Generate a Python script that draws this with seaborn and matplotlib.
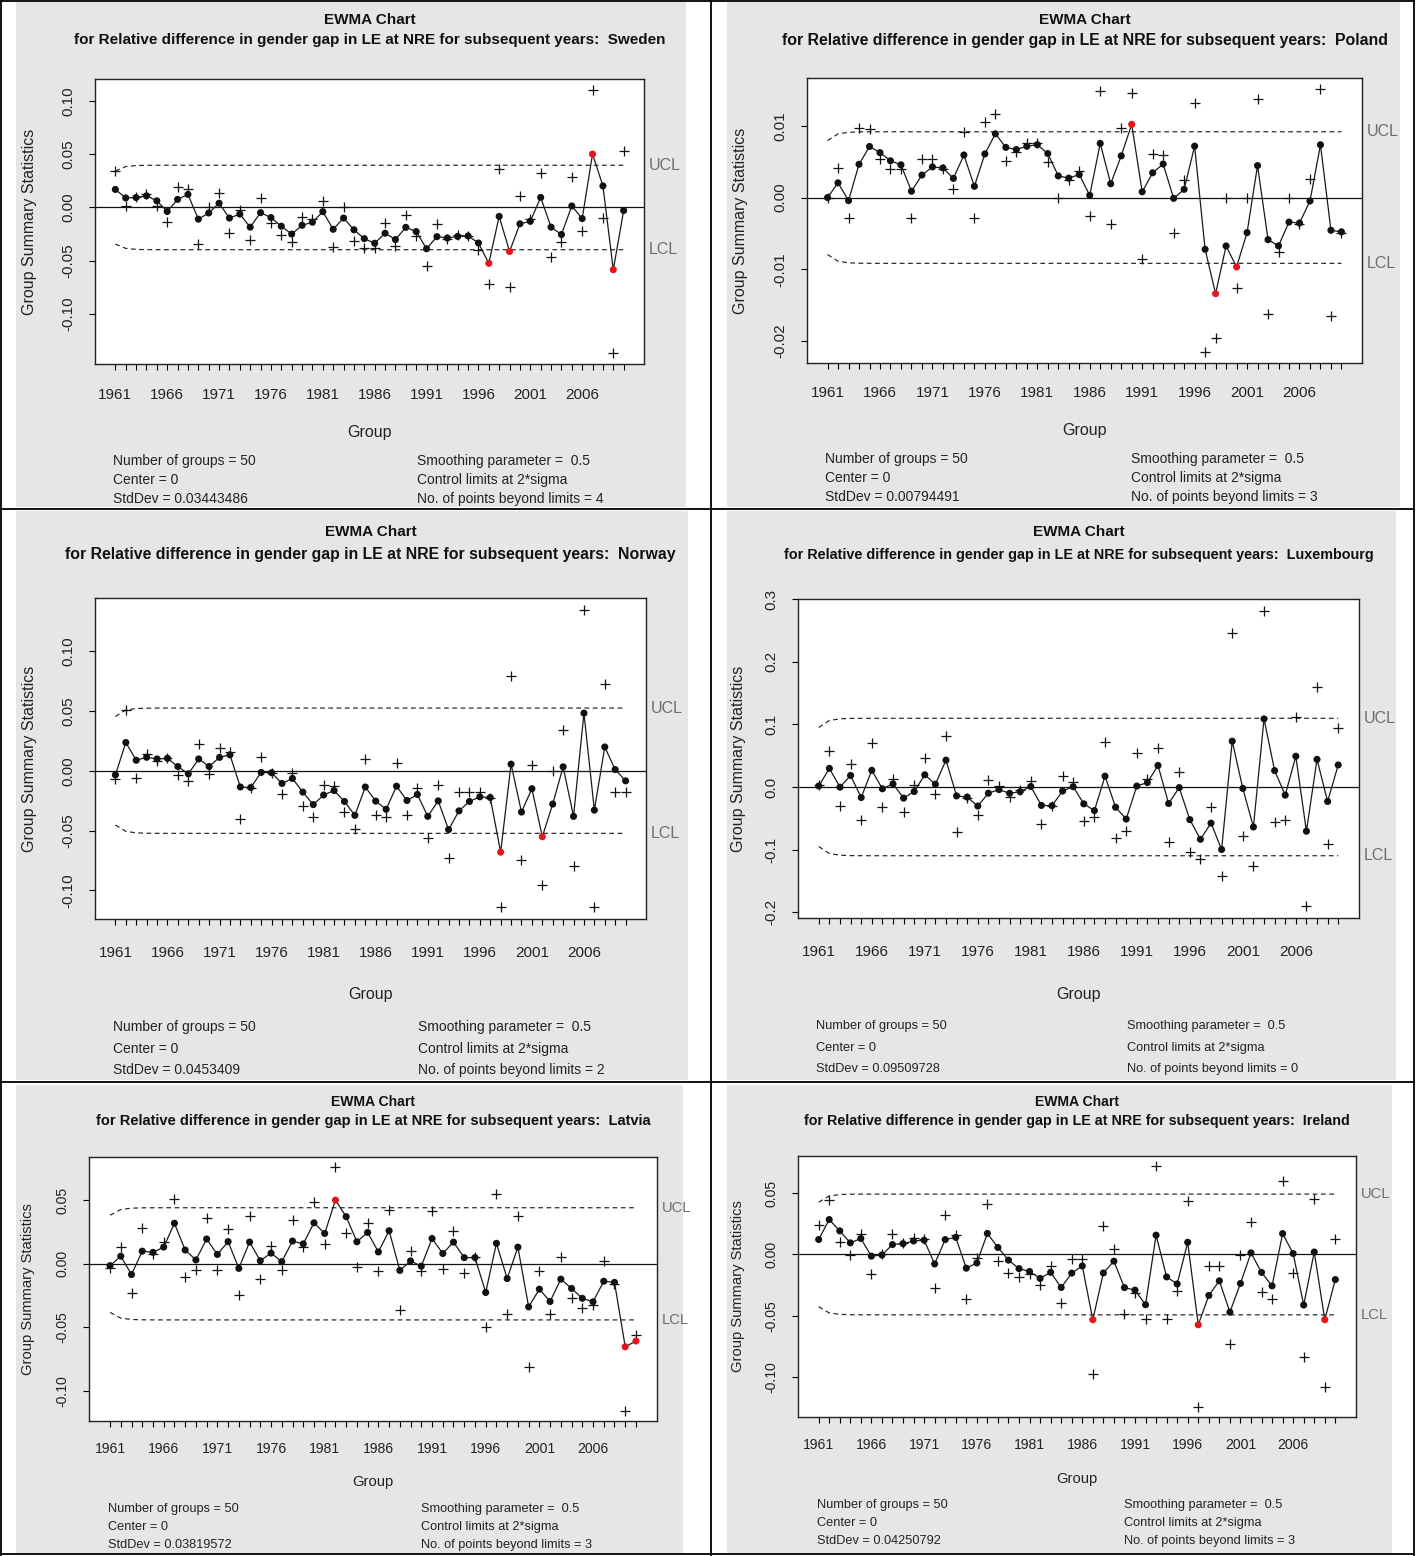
import matplotlib
matplotlib.use('Agg')
import matplotlib.pyplot as plt
from matplotlib.lines import Line2D
from matplotlib.patches import Rectangle
from matplotlib.transforms import blended_transform_factory
import seaborn as sns
import numpy as np
import pandas as pd

# groups (years) and tick labels
years = list(range(1961, 2011))
year_labels = [str(y) if (y - 1961) % 5 == 0 and y <= 2006 else '' for y in years]

countries = ['Sweden', 'Poland', 'Norway', 'Luxembourg', 'Latvia', 'Ireland']
stddevs = [0.03443486, 0.00794491, 0.0453409, 0.09509728, 0.03819572, 0.04250792]
stddev_txt = ['0.03443486', '0.00794491', '0.0453409', '0.09509728', '0.03819572', '0.04250792']

# relative difference statistics per group
sweden = [0.034, 0.001, 0.0097, 0.0126, 0.0016, -0.0138, 0.019, 0.017, -0.0343, 0.0006,
          0.0132, -0.0239, -0.0025, -0.0308, 0.0088, -0.0142, -0.0258, -0.0324, -0.0085, -0.011,
          0.006, -0.0371, 0.0006, -0.032, -0.0377, -0.038, -0.0148, -0.0362, -0.0072, -0.0267,
          -0.055, -0.016, -0.030, -0.0258, -0.0264, -0.040, -0.0717, 0.0358, -0.0745, 0.0107,
          -0.0107, 0.032, -0.0465, -0.0324, 0.0283, -0.0223, 0.111, -0.0097, -0.1374, 0.0528]
poland = [0.0, 0.0041, -0.0029, 0.0097, 0.0096, 0.0054, 0.004, 0.004, -0.0028, 0.0054,
          0.0054, 0.004, 0.0012, 0.0092, -0.0028, 0.0106, 0.0117, 0.0051, 0.0064, 0.0076,
          0.0076, 0.0049, -0.0001, 0.0024, 0.0037, -0.0026, 0.0148, -0.0037, 0.0097, 0.0146,
          -0.0086, 0.0061, 0.0059, -0.0049, 0.0024, 0.0132, -0.0216, -0.0196, -0.0001, -0.0126,
          -0.0001, 0.0138, -0.0162, -0.0076, -0.0001, -0.0037, 0.0026, 0.0152, -0.0165, -0.005]
norway = [-0.007, 0.0506, -0.0061, 0.0137, 0.0084, 0.0109, -0.0034, -0.0087, 0.0223, -0.0028,
          0.0187, 0.0154, -0.0405, -0.0145, 0.0112, -0.002, -0.0196, -0.0022, -0.0293, -0.0388,
          -0.0123, -0.0128, -0.0349, -0.0489, 0.0101, -0.0372, -0.0391, 0.0064, -0.0369, -0.0148,
          -0.0564, -0.0123, -0.0732, -0.0179, -0.0179, -0.0179, -0.023, -0.1137, 0.079, -0.0746,
          0.0045, -0.0953, -0.0006, 0.0344, -0.0796, 0.1344, -0.114, 0.0726, -0.0179, -0.0179]
luxembourg = [0.0032, 0.058, -0.0303, 0.0372, -0.0521, 0.0702, -0.0324, 0.0128, -0.0404, 0.0032,
              0.0463, -0.0106, 0.0814, -0.0713, -0.0181, -0.0447, 0.0106, 0.0016, -0.016, -0.0048,
              0.009, -0.0596, -0.0303, 0.017, 0.0074, -0.0543, -0.0484, 0.0723, -0.0819, -0.0702,
              0.0543, 0.0128, 0.0617, -0.0872, 0.0245, -0.1032, -0.1149, -0.0319, -0.142, 0.2463,
              -0.0777, -0.1255, 0.2815, -0.0564, -0.0521, 0.1112, -0.1904, 0.159, -0.0904, 0.0936]
latvia = [-0.0029, 0.0134, -0.0228, 0.0283, 0.0081, 0.0173, 0.0506, -0.0102, -0.0047, 0.0359,
          -0.0047, 0.0275, -0.0246, 0.0378, -0.0123, 0.0144, -0.005, 0.0341, 0.0134, 0.0488,
          0.0155, 0.0763, 0.0241, -0.0024, 0.032, -0.006, 0.0427, -0.0364, 0.0097, -0.006,
          0.0417, -0.0037, 0.026, -0.0073, 0.005, -0.05, 0.0548, -0.0393, 0.0378, -0.0808,
          -0.006, -0.0393, 0.0055, -0.0267, -0.0349, -0.0325, 0.0024, -0.0155, -0.1159, -0.0561]
ireland = [0.0243, 0.0446, 0.01, -0.0003, 0.0165, -0.0157, 0.0005, 0.0165, 0.0095, 0.0132,
           0.0122, -0.027, 0.0319, 0.0157, -0.0362, -0.0027, 0.0411, -0.0057, -0.0149, -0.0184,
           -0.0162, -0.0251, -0.0095, -0.0392, -0.0035, -0.0035, -0.0968, 0.023, 0.0041, -0.0484,
           -0.0311, -0.0527, 0.0722, -0.0522, -0.0297, 0.0438, -0.1243, -0.0095, -0.0095, -0.0724,
           -0.0003, 0.0262, -0.0305, -0.0365, 0.0595, -0.0154, -0.083, 0.0451, -0.1081, 0.0122]
series = [sweden, poland, norway, luxembourg, latvia, ireland]

yticks = [[-0.10, -0.05, 0.0, 0.05, 0.10],
          [-0.02, -0.01, 0.0, 0.01],
          [-0.10, -0.05, 0.0, 0.05, 0.10],
          [-0.2, -0.1, 0.0, 0.1, 0.2, 0.3],
          [-0.10, -0.05, 0.0, 0.05],
          [-0.10, -0.05, 0.0, 0.05]]
ytick_fmt = ['%.2f', '%.2f', '%.2f', '%.1f', '%.2f', '%.2f']

lam = 0.5
nsig = 2

# pixel layout of the six pasted R plots
W, H = 1416, 1556
layout = [
    dict(box=(95, 79, 644, 364), bg=(16, 2, 686, 507), title=(20, 40), xlab=432,
         info=(461, 480, 499), info_x=(113, 417), xt=29, ylab_x=30, fs=1.0,
         tfs=11.0, ifs=10.0),
    dict(box=(807, 78, 1362, 363), bg=(727, 2, 1400, 507), title=(20, 40), xlab=430,
         info=(459, 478, 497), info_x=(825, 1131), xt=28, ylab_x=740, fs=1.0,
         tfs=11.45, ifs=10.0),
    dict(box=(95, 598, 646, 919), bg=(16, 511, 688, 1080), title=(532, 555), xlab=995,
         info=(1027, 1049, 1070), info_x=(113, 418), xt=32, ylab_x=30, fs=1.0,
         tfs=11.4, ifs=10.0),
    dict(box=(798, 599, 1359, 918), bg=(727, 511, 1396, 1080), title=(532, 555), xlab=994,
         info=(1026, 1048, 1069), info_x=(816, 1127), xt=32, ylab_x=738, fs=1.0,
         tfs=10.4, ifs=9.2),
    dict(box=(89, 1157, 657, 1421), bg=(16, 1085, 683, 1553), title=(1102, 1121), xlab=1482,
         info=(1509, 1527, 1545), info_x=(108, 421), xt=26, ylab_x=28, fs=0.92,
         tfs=10.5, ifs=9.2),
    dict(box=(798, 1156, 1356, 1417), bg=(727, 1085, 1392, 1553), title=(1102, 1121), xlab=1479,
         info=(1505, 1523, 1541), info_x=(817, 1124), xt=26, ylab_x=738, fs=0.92,
         tfs=10.3, ifs=9.2),
]

plt.rcParams['font.family'] = ['Liberation Sans', 'DejaVu Sans']

fig = plt.figure(figsize=(W / 100, H / 100), dpi=100)
fig.patch.set_facecolor('white')


def fx(x):
    return x / W


def fy(y):
    return 1 - y / H


for name, raw, sd, sdt, yt, yf, lay in zip(countries, series, stddevs, stddev_txt,
                                           yticks, ytick_fmt, layout):
    raw = np.array(raw)
    n = len(raw)
    # EWMA statistic and its control limits
    z = np.zeros(n)
    prev = 0.0
    for i, v in enumerate(raw):
        prev = lam * v + (1 - lam) * prev
        z[i] = prev
    t = np.arange(1, n + 1)
    sz = sd * np.sqrt(lam / (2 - lam) * (1 - (1 - lam) ** (2 * t)))
    ucl = nsig * sz
    lcl = -nsig * sz
    out = (z > ucl) | (z < lcl)
    df = pd.DataFrame({'year': years, 'value': raw, 'ewma': z, 'ucl': ucl, 'lcl': lcl,
                       'out': out})

    s = lay['fs']
    x0, y0, x1, y1 = lay['bg']
    fig.add_artist(Rectangle((fx(x0), fy(y1)), (x1 - x0) / W, (y1 - y0) / H,
                             transform=fig.transFigure, facecolor='#e6e6e6',
                             edgecolor='none', zorder=-10))

    l, tp, r, b = lay['box']
    ax = fig.add_axes([fx(l), fy(b), (r - l) / W, (b - tp) / H])
    ax.set_facecolor('white')

    sns.scatterplot(data=df, x='year', y='value', marker='+', color='#111111', s=55,
                    linewidth=0.9, ax=ax, legend=False, zorder=3)
    ax.axhline(0, color='#111111', lw=0.9, zorder=2)
    for col in ['ucl', 'lcl']:
        sns.lineplot(data=df, x='year', y=col, color='#222222', lw=0.85,
                     linestyle=(0, (4, 3)), errorbar=None, ax=ax, zorder=2)
    sns.lineplot(data=df, x='year', y='ewma', color='#1a1a1a', lw=0.9, errorbar=None,
                 ax=ax, zorder=4)
    sns.scatterplot(data=df, x='year', y='ewma', hue='out', hue_order=[False, True],
                    palette={False: '#111111', True: '#e8141b'}, s=26, linewidth=0,
                    legend=False, ax=ax, zorder=5)

    span_x = years[-1] - years[0]
    ax.set_xlim(years[0] - 0.04 * span_x, years[-1] + 0.04 * span_x)
    lo = min(raw.min(), z.min(), lcl.min())
    hi = max(raw.max(), z.max(), ucl.max())
    ax.set_ylim(lo - 0.04 * (hi - lo), hi + 0.04 * (hi - lo))

    ax.set_xlabel('')
    ax.set_ylabel('')
    ax.set_xticks(years)
    ax.set_xticklabels(year_labels, fontsize=11 * s, color='#222222')
    ax.set_yticks(yt)
    ax.set_yticklabels([yf % v for v in yt], fontsize=11 * s, color='#222222',
                       rotation=90, va='center')
    ax.tick_params(axis='x', length=4.5, width=0.8, direction='out',
                   pad=(lay['xt'] - 6 - 5.5 * s) / 1.389)
    ax.tick_params(axis='y', length=4.5, width=0.8, direction='out', pad=(28 - 6 - 9 * s) / 1.389)
    for sp in ax.spines.values():
        sp.set_color('#222222')
        sp.set_linewidth(1.0)

    # UCL / LCL labels in the right margin
    trans = blended_transform_factory(ax.transAxes, ax.transData)
    ax.text(1.008, ucl[-1], 'UCL', transform=trans, ha='left', va='center',
            fontsize=11.5 * s, color='#6e6e6e', clip_on=False)
    ax.text(1.008, lcl[-1], 'LCL', transform=trans, ha='left', va='center',
            fontsize=11.5 * s, color='#6e6e6e', clip_on=False)

    cx = (l + r) / 2
    fig.text(fx(cx), fy(lay['title'][0]), 'EWMA Chart', ha='center', va='center',
             fontsize=11 * s, fontweight='bold', color='#111111')
    fig.text(fx(cx), fy(lay['title'][1]),
             'for Relative difference in gender gap in LE at NRE for subsequent years:  ' + name,
             ha='center', va='center', fontsize=lay['tfs'], fontweight='bold', color='#111111')
    fig.text(fx(cx), fy(lay['xlab']), 'Group', ha='center', va='center',
             fontsize=11.5 * s, color='#222222')
    fig.text(fx(lay['ylab_x']), fy((tp + b) / 2), 'Group Summary Statistics', ha='center',
             va='center', rotation=90, fontsize=11.5 * s, color='#222222')

    left_info = ['Number of groups = %d' % n, 'Center = 0', 'StdDev = ' + sdt]
    right_info = ['Smoothing parameter =  %s' % lam, 'Control limits at %d*sigma' % nsig,
                  'No. of points beyond limits = %d' % out.sum()]
    for yy, lt, rt in zip(lay['info'], left_info, right_info):
        fig.text(fx(lay['info_x'][0]), fy(yy), lt, ha='left', va='center',
                 fontsize=lay['ifs'], color='#222222')
        fig.text(fx(lay['info_x'][1]), fy(yy), rt, ha='left', va='center',
                 fontsize=lay['ifs'], color='#222222')

# black frame lines between the pasted plots
frame = [((1, 1), (1, H - 1)), ((W - 2, W - 2), (1, H - 1)), ((1, W - 2), (1, 1)),
         ((1, W - 2), (H - 2, H - 2)), ((711, 711), (1, H - 1)), ((1, W - 2), (509, 509)),
         ((1, W - 2), (1082, 1082))]
for xs, ys in frame:
    fig.add_artist(Line2D([fx(xs[0]), fx(xs[1])], [fy(ys[0]), fy(ys[1])],
                          transform=fig.transFigure, color='black', lw=1.3, zorder=10))

plt.savefig('out.png', dpi=100)
